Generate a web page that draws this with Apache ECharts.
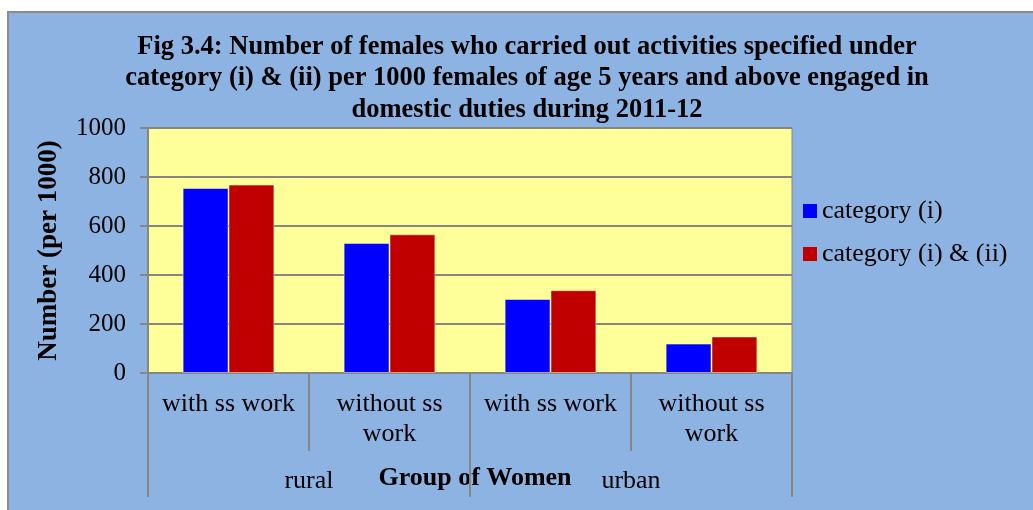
<!DOCTYPE html>
<html>
<head>
<meta charset="utf-8">
<script src="https://cdn.jsdelivr.net/npm/echarts@6/dist/echarts.min.js"></script>
<style>
  body { margin: 0; background: #fff; }
  #bg { position: absolute; left: 7px; top: 11px; right: 0; bottom: 0; background: #8db3e2;
        border-left: 2px solid #8c8c8c; border-top: 2px solid #8c8c8c; }
  #chart { position: absolute; left: 0; top: 0; width: 1033px; height: 510px; }
</style>
</head>
<body>
<div id="bg"></div>
<div id="chart"></div>
<script>
const groups = ['with ss work', 'without ss\nwork', 'with ss work', 'without ss\nwork']
const areas = ['rural', 'urban']
const cat1 = [755, 531, 302, 120]
const cat12 = [769, 566, 338, 149]
const seriesNames = ['category (i)', 'category (i) & (ii)']

const font = 'Liberation Serif'
const gray = '#868686'

const chart = echarts.init(document.getElementById('chart'))

chart.setOption({
  animation: false,
  title: {
    text: 'Fig 3.4: Number of females who carried out activities specified under\ncategory (i) & (ii) per 1000 females of age 5 years and above engaged in\ndomestic duties during 2011-12',
    left: 527,
    top: 31,
    padding: 0,
    textAlign: 'center',
    textStyle: { fontFamily: font, fontSize: 26.5, fontWeight: 'bold', color: '#000', lineHeight: 31.5 }
  },
  legend: {
    orient: 'vertical',
    left: 803,
    top: 196,
    padding: 0,
    itemWidth: 14,
    itemHeight: 14,
    itemGap: 13,
    icon: 'rect',
    itemStyle: { borderWidth: 0 },
    textStyle: { fontFamily: font, fontSize: 26, color: '#000', lineHeight: 30 },
    data: seriesNames
  },
  grid: {
    left: 148, right: 241, top: 128, bottom: 137,
    outerBoundsMode: 'none',
    containLabel: false,
    show: true, backgroundColor: '#ffff99', borderColor: gray, borderWidth: 1
  },
  xAxis: [
    {
      type: 'category',
      data: groups,
      axisLine: { show: true, lineStyle: { color: gray, width: 2 } },
      axisTick: { show: true, length: 78, interval: 0, lineStyle: { color: gray, width: 2 } },
      axisLabel: { interval: 0, margin: 16, fontFamily: font, fontSize: 26, lineHeight: 30, color: '#000' }
    },
    {
      type: 'category',
      data: areas,
      position: 'bottom',
      axisLine: { show: true, lineStyle: { color: gray, width: 2 } },
      axisTick: { show: true, length: 124, lineStyle: { color: gray, width: 2 } },
      axisLabel: { margin: 95, fontFamily: font, fontSize: 26, color: '#000' },
      name: 'Group of Women',
      nameLocation: 'middle',
      nameGap: 92,
      nameMoveOverlap: false,
      nameTextStyle: { fontFamily: font, fontSize: 26, fontWeight: 'bold', color: '#000', padding: [0, 0, 0, 10] }
    }
  ],
  yAxis: {
    type: 'value',
    min: 0,
    max: 1000,
    interval: 200,
    axisLine: { show: true, lineStyle: { color: gray, width: 2 } },
    axisTick: { show: true, length: 8, lineStyle: { color: gray, width: 2 } },
    axisLabel: { margin: 22, fontFamily: font, fontSize: 25, color: '#000', formatter: v => String(v) },
    splitLine: { show: true, lineStyle: { color: gray, width: 2 } },
    name: 'Number (per 1000)',
    nameLocation: 'middle',
    nameRotate: 90,
    nameGap: 85,
    nameMoveOverlap: false,
    nameTextStyle: { fontFamily: font, fontSize: 27, fontWeight: 'bold', color: '#000' }
  },
  series: [
    {
      name: seriesNames[0],
      type: 'bar',
      data: cat1,
      barGap: '0%',
      barCategoryGap: '43%',
      itemStyle: { color: '#0000ff', borderColor: 'rgba(255,255,170,0.5)', borderWidth: 1 }
    },
    {
      name: seriesNames[1],
      type: 'bar',
      data: cat12,
      itemStyle: { color: '#c00000', borderColor: 'rgba(255,255,170,0.5)', borderWidth: 1 }
    }
  ]
})
</script>
</body>
</html>
